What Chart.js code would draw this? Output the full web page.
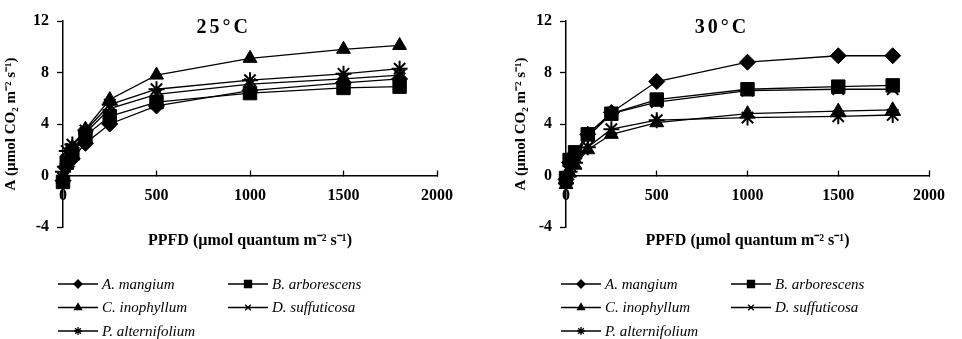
<!DOCTYPE html>
<html>
<head>
<meta charset="utf-8">
<script src="https://cdn.jsdelivr.net/npm/chart.js@4.4.0/dist/chart.umd.min.js"></script>
<style>
  html, body { margin: 0; padding: 0; background: #fff; }
  .wrap { display: flex; width: 962px; height: 339px; }
  canvas { display: block; }
</style>
</head>
<body>
<div class="wrap">
  <canvas id="chart25" width="481" height="339"></canvas>
  <canvas id="chart30" width="481" height="339"></canvas>
</div>
<script>
// light levels (PPFD)
const ppfd = [0, 20, 50, 120, 250, 500, 1000, 1500, 1800];

const species = ['A. mangium', 'B. arborescens', 'C. inophyllum', 'D. suffuticosa', 'P. alternifolium'];
const markers = ['rectRot', 'rect', 'triangle', 'crossRot', 'star'];
const markerSize = [8, 9.5, 8, 8, 8];

// 25 °C
const mangium25 = [-0.4, 0.7, 1.3, 2.5, 4.0, 5.4, 6.6, 7.2, 7.5];
const arborescens25 = [-0.5, 1.0, 1.7, 3.1, 4.6, 5.7, 6.4, 6.8, 6.9];
const inophyllum25 = [-0.3, 1.2, 2.2, 3.6, 5.9, 7.8, 9.1, 9.8, 10.1];
const suffuticosa25 = [-0.2, 1.2, 2.0, 3.3, 5.2, 6.3, 7.1, 7.5, 7.8];
const alternifolium25 = [0.3, 1.9, 2.4, 3.5, 5.5, 6.7, 7.4, 7.9, 8.3];

// 30 °C
const mangium30 = [-0.3, 1.0, 1.7, 3.2, 4.9, 7.3, 8.8, 9.3, 9.3];
const arborescens30 = [-0.2, 1.2, 1.8, 3.2, 4.8, 5.9, 6.7, 6.9, 7.0];
const inophyllum30 = [-0.7, 0.2, 0.8, 2.0, 3.2, 4.1, 4.8, 5.0, 5.1];
const suffuticosa30 = [-0.4, 0.8, 1.5, 3.0, 4.8, 5.7, 6.6, 6.7, 6.7];
const alternifolium30 = [-0.6, 0.3, 1.0, 2.2, 3.6, 4.3, 4.5, 4.6, 4.7];

const yTicks = [-4, 0, 4, 8, 12];
const xTicks = [0, 500, 1000, 1500, 2000];

const serif = "'Liberation Serif', 'Times New Roman', serif";

function makeSets(series) {
  return series.map((vals, i) => ({
    label: species[i],
    data: ppfd.map((x, k) => ({ x: x, y: vals[k] })),
    borderColor: '#000',
    backgroundColor: '#000',
    borderWidth: 1.3,
    pointStyle: markers[i],
    pointRadius: markerSize[i],
    pointBorderWidth: markers[i] == 'crossRot' || markers[i] == 'star' ? 2 : 1,
    pointBorderColor: '#000',
    pointBackgroundColor: '#000',
    tension: 0,
    clip: false
  }));
}

// title, x axis title and the two-column legend
const extras = {
  id: 'extras',
  afterDraw(chart, args, opts) {
    const ctx = chart.ctx;
    const a = chart.chartArea;
    ctx.save();
    ctx.fillStyle = '#000';
    // panel title
    ctx.font = 'bold 20px ' + serif;
    ctx.letterSpacing = '3px';
    ctx.textAlign = 'center';
    ctx.textBaseline = 'middle';
    ctx.fillText(opts.title, chart.scales.x.getPixelForValue(860), 28);
    ctx.letterSpacing = '0px';
    // x axis title
    ctx.font = 'bold 16px ' + serif;
    ctx.fillText('PPFD (µmol quantum m⁻² s⁻¹)', (a.left + a.right) / 2, 241);
    // legend
    ctx.font = 'italic 15px ' + serif;
    ctx.textAlign = 'left';
    chart.data.datasets.forEach((ds, i) => {
      const x0 = a.left + (i % 2 ? 165 : -5);
      const y0 = 284 + Math.floor(i / 2) * 23.5;
      ctx.strokeStyle = '#000';
      ctx.lineWidth = 1.3;
      ctx.beginPath();
      ctx.moveTo(x0, y0);
      ctx.lineTo(x0 + 40, y0);
      ctx.stroke();
      ctx.fillStyle = '#000';
      Chart.helpers.drawPoint(ctx, {
        pointStyle: ds.pointStyle,
        radius: ds.pointStyle == 'rect' ? 5 : 4,
        rotation: 0,
        borderWidth: 1.2
      }, x0 + 20, y0);
      ctx.fillText(ds.label, x0 + 44, y0 + 1);
    });
    ctx.restore();
  }
};

function makeChart(id, title, series, padLeft, yWidth, padRight) {
  return new Chart(document.getElementById(id), {
    type: 'line',
    data: { datasets: makeSets(series) },
    plugins: [extras],
    options: {
      responsive: false,
      animation: false,
      layout: { padding: { left: padLeft, right: padRight, top: 21, bottom: 112 } },
      plugins: {
        legend: { display: false },
        tooltip: { enabled: false },
        extras: { title: title }
      },
      scales: {
        x: {
          type: 'linear',
          min: 0,
          max: 2000,
          position: { y: 0 },
          afterFit: s => { s.height = 0; },
          afterBuildTicks: s => { s.ticks = xTicks.map(v => ({ value: v })); },
          grid: { display: true, drawOnChartArea: false, tickLength: -6, tickColor: '#000', tickWidth: 1.3 },
          border: { display: true, color: '#000', width: 1.5 },
          ticks: {
            color: '#000', padding: 17, maxRotation: 0,
            font: { family: serif, size: 16, weight: 'bold' },
            callback: v => String(v)
          }
        },
        y: {
          min: -4,
          max: 12,
          afterFit: s => { s.width = yWidth; },
          afterBuildTicks: s => { s.ticks = yTicks.map(v => ({ value: v })); },
          grid: { display: true, drawOnChartArea: false, tickLength: 6, tickColor: '#000', tickWidth: 1.3 },
          border: { display: true, color: '#000', width: 1.5 },
          ticks: { color: '#000', padding: 8, font: { family: serif, size: 16, weight: 'bold' } },
          title: {
            display: true,
            text: 'A (µmol CO₂ m⁻² s⁻¹)',
            color: '#000',
            font: { family: serif, size: 15, weight: 'bold' },
            padding: { top: 2, bottom: 0 }
          }
        }
      }
    }
  });
}

makeChart('chart25', '25°C',
  [mangium25, arborescens25, inophyllum25, suffuticosa25, alternifolium25], 0, 63, 44);
makeChart('chart30', '30°C',
  [mangium30, arborescens30, inophyllum30, suffuticosa30, alternifolium30], 29, 56, 22);
</script>
</body>
</html>
